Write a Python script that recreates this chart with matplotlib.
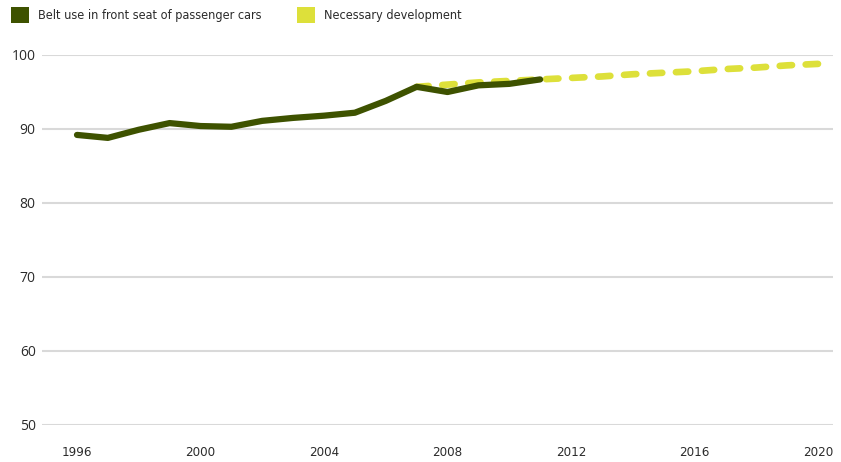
import matplotlib
matplotlib.use("Agg")
import numpy as np
import matplotlib.pyplot as plt
from matplotlib.patches import Rectangle

# Observed belt use in front seats of passenger cars (%)
years = [1996, 1997, 1998, 1999, 2000, 2001, 2002, 2003, 2004, 2005,
         2006, 2007, 2008, 2009, 2010, 2011]
belt_use = [89.2, 88.8, 89.9, 90.8, 90.4, 90.3, 91.1, 91.5, 91.8, 92.2,
            93.8, 95.7, 95.0, 95.9, 96.1, 96.7]

# Development needed to reach the target
target_years = [2007, 2008, 2009, 2010, 2011, 2012, 2013, 2014, 2015,
                2016, 2017, 2018, 2019, 2020]
target_use = [95.7, 96.0, 96.3, 96.5, 96.7, 96.9, 97.1, 97.4, 97.6,
              97.8, 98.1, 98.3, 98.6, 98.8]

x_ticks = [1996, 2000, 2004, 2008, 2012, 2016, 2020]
y_ticks = [50, 60, 70, 80, 90, 100]

legend_labels = ["Belt use in front seat of passenger cars", "Necessary development"]

DARK = "#3e5200"
YELLOW = "#dde03a"
GRID = "#d9d9d9"
TEXT = "#2b2b2b"

W, H = 841, 462
DPI = 100
fig = plt.figure(figsize=(W / DPI, H / DPI), dpi=DPI)
ax = fig.add_axes([42 / W, 1 - 425 / H, (833 - 42) / W, (425 - 55) / H])

ax.set_xlim(1996 - 35 / 30.875, 2020 + 15 / 30.875)
ax.set_ylim(50, 100)

# Dash pattern (in linewidth units); shift it so the dashed line ends on a dash
LW_DASH = 4.8
DASH_ON, DASH_OFF = 1.85, 2.05
pts = ax.transData.transform(np.column_stack([target_years, target_use]))
length_pt = np.sum(np.hypot(*np.diff(pts, axis=0).T)) * 72 / DPI
length_units = length_pt / LW_DASH
offset = (DASH_ON - length_units) % (DASH_ON + DASH_OFF)

ax.plot(target_years, target_use, color=YELLOW, lw=LW_DASH,
        ls=(offset, (DASH_ON, DASH_OFF)),
        dash_capstyle="round", solid_capstyle="round", zorder=3, clip_on=False)
ax.plot(years, belt_use, color=DARK, lw=4.5, solid_capstyle="round",
        solid_joinstyle="round", zorder=4, clip_on=False)

ax.set_xticks(x_ticks)
ax.set_yticks(y_ticks)
ax.grid(axis="y", color=GRID, lw=1.5)
ax.set_axisbelow(True)
for s in ax.spines.values():
    s.set_visible(False)
ax.tick_params(axis="both", length=0, colors=TEXT)
ax.tick_params(axis="x", pad=15)
ax.tick_params(axis="y", pad=4.5)
for lab in ax.get_xticklabels():
    lab.set_fontfamily("DejaVu Sans")
    lab.set_fontstretch("condensed")
    lab.set_fontsize(9.5)
for lab in ax.get_yticklabels():
    lab.set_fontfamily(["Open Sans", "DejaVu Sans"])
    lab.set_fontsize(10)

# Legend drawn in figure pixels
def fx(px):
    return px / W

def fy(py):
    return 1 - py / H

for (x0, color, label) in [(11, DARK, legend_labels[0]), (297, YELLOW, legend_labels[1])]:
    fig.add_artist(Rectangle((fx(x0), fy(23)), 18 / W, 16 / H,
                             transform=fig.transFigure, color=color, lw=0))
    fig.text(fx(x0 + 27), fy(15.5), label, ha="left", va="center",
             fontsize=9.1, color=TEXT, family="DejaVu Sans",
             fontstretch="condensed")

fig.savefig("out.png", dpi=DPI)
